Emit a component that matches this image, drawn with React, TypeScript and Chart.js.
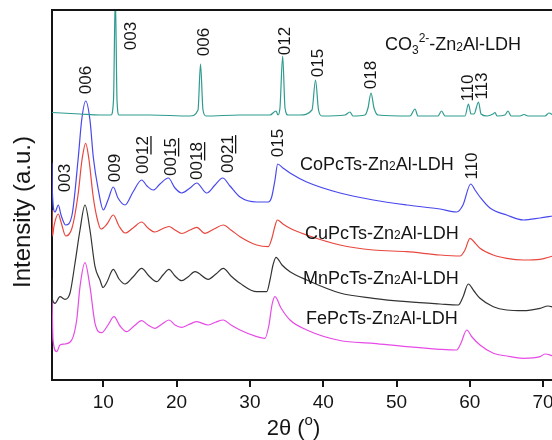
import { useEffect, useRef } from 'react';
import { Chart, registerables } from 'chart.js';

Chart.register(...registerables);

// ---------- data ----------
const xTicks = [10, 20, 30, 40, 50, 60, 70];
const X_MIN = 3;
const X_MAX = 71.35;
const Y_MIN = 0;
const Y_MAX = 370;

// CO3(2-)-Zn2Al-LDH (teal)
const co3Theta = [3.00, 6.82, 9.55, 11.05, 11.39, 11.64, 11.87, 12.14, 16.37, 21.83, 22.92, 23.26, 23.60, 24.01, 28.65, 32.74, 33.56, 33.83, 34.10, 34.47, 34.79, 35.20, 36.83, 38.47, 38.95, 39.36, 39.83, 42.97, 43.65, 44.06, 45.70, 46.11, 46.52, 46.93, 47.48, 51.84, 52.52, 52.93, 55.66, 56.14, 56.62, 59.34, 59.82, 60.16, 60.57, 61.19, 61.53, 62.35, 63.16, 63.44, 63.71, 64.80, 65.21, 65.63, 66.85, 67.39, 67.94, 70.26, 70.80, 71.35];
const co3I = [267.5, 266, 265, 265, 280, 385, 280, 265, 265, 264, 270, 316, 270, 264, 265, 265, 269, 265, 272, 324, 272, 265, 265, 270, 300, 270, 264, 265, 268, 264, 265, 272, 287, 272, 265, 264, 271, 264, 264, 269, 264, 264, 276, 266, 266, 278, 266, 264, 266, 267.5, 264, 265, 269, 264, 264, 265.5, 264, 264, 267, 265];

// CoPcTs-Zn2Al-LDH (blue)
const coTheta = [3.00, 3.07, 3.41, 3.86, 4.23, 4.87, 5.73, 6.59, 7.05, 7.60, 8.18, 8.63, 9.32, 10.00, 10.64, 11.36, 12.00, 12.96, 14.05, 15.24, 15.96, 16.82, 17.73, 18.87, 19.78, 20.69, 21.83, 22.74, 24.11, 25.24, 26.29, 27.28, 28.65, 30.93, 32.51, 32.97, 33.42, 33.79, 34.51, 35.47, 37.75, 42.29, 46.83, 51.39, 55.93, 58.21, 59.07, 60.12, 60.71, 61.39, 62.75, 65.03, 67.30, 69.58, 71.35];
const coI = [217, 185, 168, 175, 165, 155, 165, 223, 260, 279, 260, 223, 190, 170, 180, 193, 182, 175, 188, 200, 194, 190, 196, 202, 192, 187, 192, 197, 187, 195, 202, 194, 183, 178, 178, 183, 200, 216, 212, 207, 198, 187, 180, 175, 171, 168, 175, 196, 190, 183, 172, 165, 160, 162, 164];

// CuPcTs-Zn2Al-LDH (red)
const cuTheta = [3.00, 3.07, 3.27, 3.86, 4.23, 4.87, 5.73, 6.55, 7.09, 7.60, 8.05, 8.59, 9.14, 9.68, 10.50, 11.36, 12.14, 12.96, 14.05, 15.24, 16.10, 17.05, 18.01, 18.96, 19.78, 20.69, 21.83, 22.74, 23.87, 25.10, 26.37, 27.42, 28.65, 30.93, 32.51, 33.01, 33.42, 33.74, 34.51, 35.47, 37.75, 42.29, 46.83, 51.39, 55.93, 58.66, 59.34, 60.03, 60.71, 61.39, 63.21, 65.03, 67.30, 69.58, 71.35];
const cuI = [170, 144, 154, 166, 158, 144, 152, 185, 220, 236.7, 220, 185, 162, 151, 156, 165, 154, 147, 152, 158, 152, 148, 151, 153.5, 150, 146.5, 150, 152.7, 146.7, 151, 155, 150, 143.3, 135, 133.3, 142, 154, 160, 156, 151.7, 145, 135, 130, 128.3, 125, 124, 130, 141.7, 137, 131.7, 125, 121.7, 120, 120.7, 124];

// MnPcTs-Zn2Al-LDH (black)
const mnTheta = [3.00, 3.07, 3.41, 4.09, 4.77, 5.46, 6.14, 6.82, 7.50, 8.18, 8.87, 9.55, 9.96, 10.50, 11.36, 12.14, 12.96, 14.05, 15.24, 16.23, 17.28, 18.14, 18.96, 19.78, 20.69, 21.55, 22.51, 24.32, 25.37, 26.37, 27.42, 28.65, 30.93, 32.29, 32.74, 33.15, 33.56, 34.38, 35.47, 37.75, 42.29, 46.83, 51.39, 55.93, 58.43, 59.07, 59.79, 60.57, 61.39, 63.21, 65.03, 67.30, 69.58, 70.67, 71.35];
const mnI = [102, 80, 76.7, 83.3, 80.7, 87, 117, 150, 175, 150, 113.3, 100, 92.5, 98, 110.7, 101, 96, 103, 111.7, 104, 98.3, 105, 110.7, 104, 99.3, 103, 108.3, 100.7, 106, 111.7, 104, 96.7, 88.3, 88.3, 100, 115, 122.7, 115, 108.3, 100, 87, 81.7, 78.3, 76, 75, 83, 96, 89, 81.7, 73.3, 70, 69.3, 71.7, 74, 73];

// FePcTs-Zn2Al-LDH (magenta)
const feTheta = [3.00, 3.14, 3.64, 4.09, 4.77, 5.69, 6.37, 6.82, 7.50, 8.18, 8.87, 9.78, 10.64, 11.46, 12.28, 13.19, 14.19, 15.24, 16.10, 17.05, 18.01, 18.96, 19.78, 20.69, 21.55, 22.74, 24.32, 25.37, 26.37, 27.42, 28.65, 30.93, 32.06, 32.60, 33.01, 33.42, 34.24, 35.47, 37.75, 42.29, 46.83, 51.39, 55.93, 58.21, 58.80, 59.58, 60.30, 61.39, 63.21, 65.03, 67.30, 69.58, 70.26, 71.35];
const feI = [84, 40, 28.3, 35, 36, 40, 60, 93.3, 117.3, 93.3, 56.7, 47.3, 55, 63.3, 54, 48.3, 54, 59.3, 55, 51.7, 56, 60, 55, 52.7, 55, 58.3, 55, 58, 60, 55, 50, 43.3, 41.7, 55, 75, 83.3, 72, 60, 50, 39.5, 36.7, 33.3, 30.7, 30, 37, 50, 43, 35, 26.7, 24, 21.7, 23.3, 26, 24];

// peak (hkl) labels, rotated
const peakText = ['003', '006', '012', '015', '018', '110', '113', '006', '003', '009', '0012', '0015', '0018', '0021', '015', '110'];
const peakTheta = [13.87, 23.74, 34.79, 39.33, 46.62, 59.80, 61.70, 7.64, 4.77, 11.59, 15.46, 19.23, 22.78, 27.01, 33.87, 60.30];
const peakI = [344, 338, 339, 317, 305, 292, 294, 300, 202, 212, 225, 223, 219, 226, 237, 214];
const peakUnderlineFrom = [0, 0, 0, 0, 0, 0, 0, 0, 0, 0, 2, 2, 2, 2, 0, 0];

// sample name labels: parts [text, kind]
type Part = [string, 'n' | 'sub' | 'sup' | 'small'];
const sampleParts: Part[][] = [
  [['CO', 'n'], ['3', 'sub'], ['2-', 'sup'], ['-Zn', 'n'], ['2', 'small'], ['Al-LDH', 'n']],
  [['CoPcTs-Zn', 'n'], ['2', 'small'], ['Al-LDH', 'n']],
  [['CuPcTs-Zn', 'n'], ['2', 'small'], ['Al-LDH', 'n']],
  [['MnPcTs-Zn', 'n'], ['2', 'small'], ['Al-LDH', 'n']],
  [['FePcTs-Zn', 'n'], ['2', 'small'], ['Al-LDH', 'n']],
];
const sampleTheta = [48.43, 36.83, 37.52, 37.24, 37.65];
const sampleI = [330, 210.5, 141.5, 96.5, 56.5];

const xTitleParts: Part[] = [['2θ (', 'n'], ['o', 'sup'], [')', 'n']];
const yTitle = 'Intensity (a.u.)';

// ---------- styles ----------
const FONT = '"Liberation Sans", Arial, Helvetica, sans-serif';
const TEXT = '#151515';
const colors = ['#2f9b8f', '#4848ee', '#e8473f', '#333333', '#e64be6'];

function toPts(t: number[], v: number[]) {
  return t.map((x, i) => ({ x, y: v[i] }));
}

function partsWidth(ctx: CanvasRenderingContext2D, parts: Part[], size: number) {
  let w = 0;
  for (const [t, k] of parts) {
    const s = k === 'n' ? size : Math.round(size * 0.66);
    ctx.font = `${s}px ${FONT}`;
    w += ctx.measureText(t).width;
  }
  return w;
}

function drawParts(ctx: CanvasRenderingContext2D, x: number, y: number, parts: Part[], size: number) {
  let cx = x;
  for (const [t, k] of parts) {
    const s = k === 'n' ? size : Math.round(size * 0.66);
    const dy = k === 'sub' ? size * 0.2 : k === 'sup' ? -size * 0.45 : k === 'small' ? size * 0.05 : 0;
    ctx.font = `${s}px ${FONT}`;
    ctx.fillText(t, cx, y + dy);
    cx += ctx.measureText(t).width;
  }
}

const textPlugin = {
  id: 'xrdText',
  afterDraw(chart: any) {
    const ctx: CanvasRenderingContext2D = chart.ctx;
    const xs = chart.scales.x;
    const ys = chart.scales.y;
    const area = chart.chartArea;
    ctx.save();
    ctx.fillStyle = TEXT;
    ctx.strokeStyle = TEXT;

    // top frame line
    ctx.lineWidth = 2;
    ctx.beginPath();
    ctx.moveTo(area.left - 1, area.top);
    ctx.lineTo(chart.width, area.top);
    ctx.stroke();

    // rotated peak labels
    const ps = 17;
    ctx.font = `${ps}px ${FONT}`;
    ctx.textAlign = 'center';
    ctx.textBaseline = 'middle';
    peakText.forEach((t, i) => {
      const px = xs.getPixelForValue(peakTheta[i]);
      const py = ys.getPixelForValue(peakI[i]);
      ctx.save();
      ctx.translate(px, py);
      ctx.rotate(-Math.PI / 2);
      ctx.fillText(t, 0, 0);
      const u = peakUnderlineFrom[i];
      if (u > 0) {
        const w = ctx.measureText(t).width;
        const w0 = ctx.measureText(t.slice(0, u)).width;
        ctx.lineWidth = 1.3;
        ctx.beginPath();
        ctx.moveTo(-w / 2 + w0 + 0.5, ps * 0.45);
        ctx.lineTo(w / 2, ps * 0.45);
        ctx.stroke();
      }
      ctx.restore();
    });

    // sample names
    ctx.textAlign = 'left';
    ctx.textBaseline = 'alphabetic';
    sampleParts.forEach((parts, i) => {
      const px = xs.getPixelForValue(sampleTheta[i]);
      const py = ys.getPixelForValue(sampleI[i]);
      drawParts(ctx, px, py, parts, 18);
    });

    // x title
    const xtSize = 22;
    const xw = partsWidth(ctx, xTitleParts, xtSize);
    const xc = (area.left + 553) / 2 - 9;
    drawParts(ctx, xc - xw / 2, 435, xTitleParts, xtSize);

    // y title
    ctx.save();
    ctx.translate(23, 212);
    ctx.rotate(-Math.PI / 2);
    ctx.font = `24px ${FONT}`;
    ctx.textAlign = 'center';
    ctx.textBaseline = 'middle';
    ctx.fillText(yTitle, 0, 0);
    ctx.restore();

    ctx.restore();
  },
};

export default function App() {
  const ref = useRef<HTMLCanvasElement | null>(null);

  useEffect(() => {
    document.body.style.margin = '0';
    const canvas = ref.current;
    if (!canvas) return;
    const series = [
      toPts(co3Theta, co3I),
      toPts(coTheta, coI),
      toPts(cuTheta, cuI),
      toPts(mnTheta, mnI),
      toPts(feTheta, feI),
    ];
    const chart = new Chart(canvas, {
      type: 'line',
      data: {
        datasets: series.map((d, i) => ({
          data: d,
          borderColor: colors[i],
          borderWidth: 1.2,
          pointRadius: 0,
          fill: false,
          cubicInterpolationMode: 'monotone' as const,
        })),
      },
      options: {
        animation: false,
        responsive: false,
        devicePixelRatio: 1,
        layout: { padding: { left: 0, right: 47, top: 10, bottom: 0 } },
        plugins: { legend: { display: false }, tooltip: { enabled: false } },
        scales: {
          x: {
            type: 'linear',
            min: X_MIN,
            max: X_MAX,
            afterBuildTicks: (scale: any) => {
              scale.ticks = xTicks.map((v) => ({ value: v }));
            },
            afterFit: (scale: any) => {
              scale.height = 60;
            },
            ticks: {
              color: TEXT,
              font: { family: FONT, size: 19 },
              padding: 4,
              maxRotation: 0,
              autoSkip: false,
            },
            grid: {
              display: true,
              drawOnChartArea: false,
              drawTicks: true,
              tickLength: 7,
              color: TEXT,
              lineWidth: 2,
            },
            border: { display: true, color: TEXT, width: 2 },
          },
          y: {
            type: 'linear',
            min: Y_MIN,
            max: Y_MAX,
            afterFit: (scale: any) => {
              scale.width = 52;
            },
            ticks: { display: false },
            grid: { display: false },
            border: { display: true, color: TEXT, width: 2 },
          },
        },
      },
      plugins: [textPlugin],
    });
    return () => chart.destroy();
  }, []);

  return (
    <div
      style={{
        position: 'fixed',
        left: 0,
        top: 0,
        width: 552,
        height: 440,
        overflow: 'hidden',
        background: '#fff',
      }}
    >
      <canvas ref={ref} width={600} height={440} style={{ width: 600, height: 440, display: 'block' }} />
    </div>
  );
}
